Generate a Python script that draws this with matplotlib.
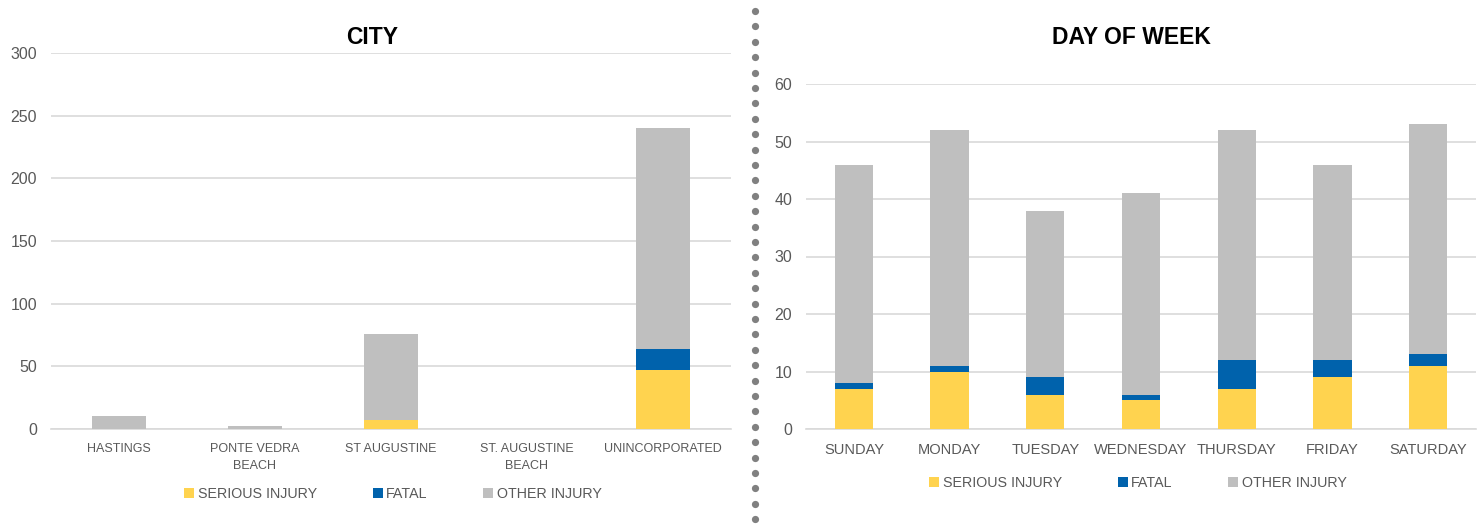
import matplotlib
matplotlib.use("Agg")
import matplotlib.pyplot as plt
import numpy as np
from matplotlib.lines import Line2D
from matplotlib.patches import Patch

plt.rcParams['font.family'] = ['Liberation Sans', 'DejaVu Sans']

# ---- data ----
cities = ["HASTINGS", "PONTE VEDRA\nBEACH", "ST AUGUSTINE", "ST. AUGUSTINE\nBEACH", "UNINCORPORATED"]
city_serious = [0, 0, 7, 0, 47]
city_fatal = [0, 0, 0, 0, 17]
city_other = [10, 2, 69, 0, 176]

days = ["SUNDAY", "MONDAY", "TUESDAY", "WEDNESDAY", "THURSDAY", "FRIDAY", "SATURDAY"]
day_serious = [7, 10, 6, 5, 7, 9, 11]
day_fatal = [1, 1, 3, 1, 5, 3, 2]
day_other = [38, 41, 29, 35, 40, 34, 40]

series_names = ["SERIOUS INJURY", "FATAL", "OTHER INJURY"]
colors = ["#FFD34F", "#0062AC", "#BFBFBF"]

W, H = 1482, 529
fig = plt.figure(figsize=(W / 100, H / 100), dpi=100)

tick_color = "#595959"
grid_color = "#D9D9D9"


def make_panel(rect, cats, s, f, o, ymax, ystep, xfs, yfs):
    ax = fig.add_axes(rect)
    x = np.arange(len(cats))
    s = np.array(s); f = np.array(f); o = np.array(o)
    ax.bar(x, s, width=0.4, color=colors[0], zorder=3)
    ax.bar(x, f, width=0.4, bottom=s, color=colors[1], zorder=3)
    ax.bar(x, o, width=0.4, bottom=s + f, color=colors[2], zorder=3)
    ax.set_xlim(-0.5, len(cats) - 0.5)
    ax.set_ylim(0, ymax)
    ax.set_yticks(np.arange(0, ymax + 1, ystep))
    ax.yaxis.grid(True, color=grid_color, linewidth=1.2, zorder=0)
    ax.set_axisbelow(True)
    for sp in ["top", "right", "left"]:
        ax.spines[sp].set_visible(False)
    ax.spines["bottom"].set_color(grid_color)
    ax.spines["bottom"].set_linewidth(1.2)
    ax.set_xticks(x)
    ax.set_xticklabels(cats, fontsize=xfs, color=tick_color, linespacing=1.6)
    ax.tick_params(axis="x", length=0, pad=10)
    ax.tick_params(axis="y", length=0, pad=10, labelsize=yfs, labelcolor=tick_color)
    return ax


ax1 = make_panel([51 / W, 1 - 429 / H, 680 / W, 376 / H], cities,
                 city_serious, city_fatal, city_other, 300, 50, 9, 11.5)
ax2 = make_panel([806 / W, 1 - 429 / H, 670 / W, 345 / H], days,
                 day_serious, day_fatal, day_other, 60, 10, 10.5, 11.5)

fig.text(372 / W, 1 - 38 / H, "CITY", ha="center", va="center",
         fontsize=16.5, fontweight="bold", color="black")
fig.text(1131 / W, 1 - 38 / H, "DAY OF WEEK", ha="center", va="center",
         fontsize=16.5, fontweight="bold", color="black")

handles = [Patch(facecolor=c, edgecolor="none") for c in colors]
fig.legend(handles, series_names, loc="center", bbox_to_anchor=(393 / W, 1 - 494 / H),
           ncol=3, frameon=False, fontsize=10.3, handlelength=0.7, handleheight=0.7,
           handletextpad=0.25, columnspacing=3.9, labelcolor=tick_color)
fig.legend(handles, series_names, loc="center", bbox_to_anchor=(1138 / W, 1 - 483 / H),
           ncol=3, frameon=False, fontsize=10.3, handlelength=0.7, handleheight=0.7,
           handletextpad=0.25, columnspacing=3.9, labelcolor=tick_color)

# dotted separator
ys = np.arange(11, 526, 15.4)
fig.add_artist(Line2D(np.full(len(ys), 755 / W), 1 - ys / H, transform=fig.transFigure,
                      linestyle="none", marker="o", markersize=5.2,
                      markerfacecolor="#808080", markeredgecolor="none"))

fig.savefig("out.png", dpi=100)
